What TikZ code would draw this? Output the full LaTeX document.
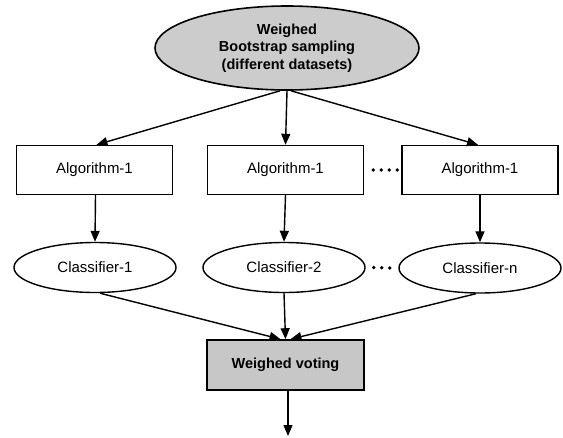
\documentclass[tikz,border=0pt]{standalone}
\usepackage{fontspec}
\setmainfont{Liberation Sans}
\usetikzlibrary{shapes.geometric,arrows.meta}
\begin{document}
\begin{tikzpicture}[x=1pt,y=-1pt,
  every node/.style={font=\fontsize{15}{18}\selectfont, text=black},
  algbox/.style={draw, line width=1.4pt, minimum width=156pt, minimum height=49pt, inner sep=0pt},
  clsell/.style={ellipse, draw, line width=1.4pt, minimum width=162pt, minimum height=50pt, inner sep=0pt},
  topell/.style={ellipse, draw, line width=1.6pt, fill=black!20, minimum width=264pt, minimum height=84pt, inner sep=0pt, align=center, font=\fontsize{14.5}{17.5}\selectfont\bfseries},
  votebox/.style={draw, line width=1.6pt, fill=black!22, minimum width=157pt, minimum height=50pt, inner sep=0pt, font=\fontsize{14.5}{17.5}\selectfont\bfseries},
  arr/.style={line width=1.4pt, -{Triangle[length=11pt,width=9pt]}},
  dotline/.style={line width=3.8pt, line cap=round, dash pattern=on 0pt off 8pt}
]
\useasboundingbox (0,0) rectangle (563,437);
\node[topell] (top) at (287,48) {Weighed\\Bootstrap sampling\\(different datasets)};
\node[algbox] (a1) at (94.5,170) {Algorithm-1};
\node[algbox] (a2) at (285.5,170) {Algorithm-1};
\node[algbox] (a3) at (480,170) {Algorithm-1};
\node[clsell] (c1) at (95,267.5) {Classifier-1};
\node[clsell] (c2) at (284,267.5) {Classifier-2};
\node[clsell] (c3) at (480,268) {Classifier-n};
\node[votebox] (v) at (285.5,365) {Weighed voting};
\coordinate (out) at (288,436);

\draw[arr] ([xshift=-7pt]top.south) -- ([xshift=2pt]a1.north);
\draw[arr] (top.south) -- (a2.north);
\draw[arr] ([xshift=4pt]top.south) -- ([xshift=-2pt]a3.north);

\draw[arr] ([xshift=1pt]a1.south) -- (c1.north);
\draw[arr] (a2.south) -- (c2.north);
\draw[arr] (a3.south) -- (c3.north);

\draw[arr] ([xshift=5pt]c1.south) -- ([xshift=-5pt]v.north);
\draw[arr] (c2.south) -- (v.north);
\draw[arr] ([xshift=-4pt]c3.south) -- ([xshift=5pt]v.north);

\draw[arr] ([xshift=2.5pt]v.south) -- (out);

\draw[dotline] ([xshift=9pt]a2.east) -- ([xshift=-4pt]a3.west);
\draw[dotline] ([xshift=8pt]c2.east) -- ([xshift=-8pt]c3.west);
\end{tikzpicture}
\end{document}
